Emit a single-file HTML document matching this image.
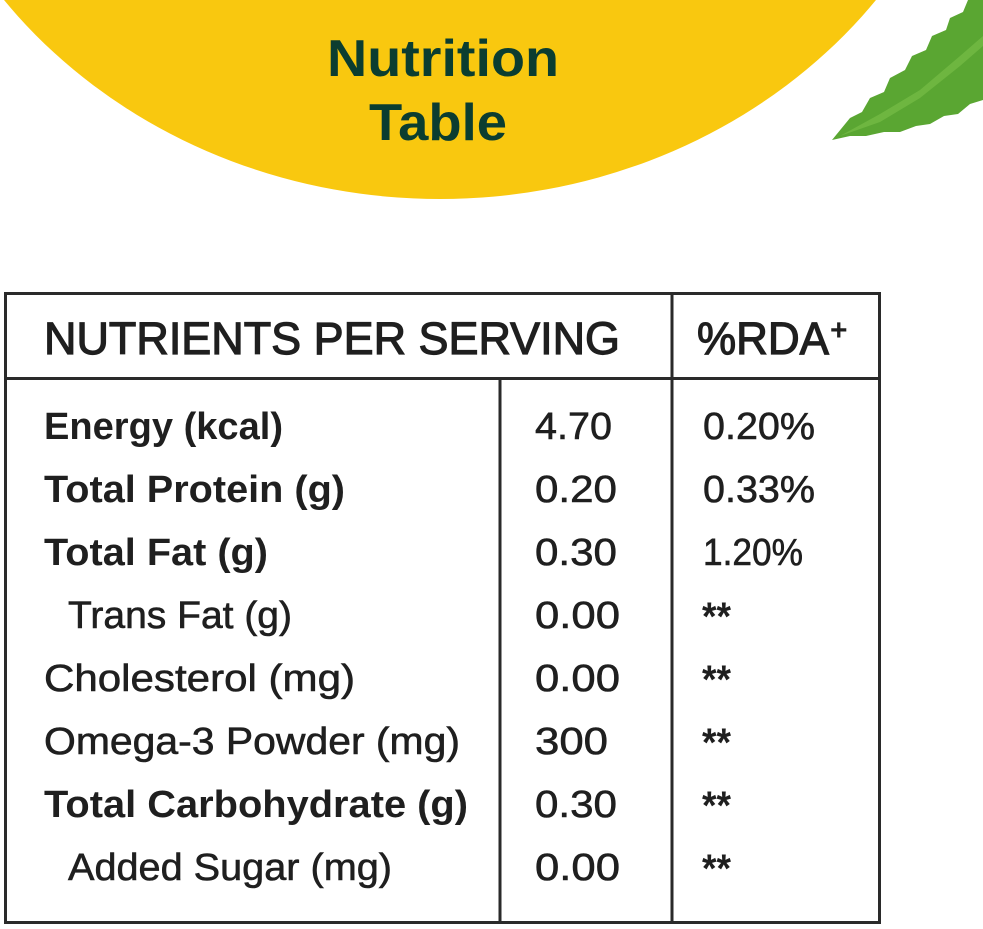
<!DOCTYPE html>
<html><head><meta charset="utf-8"><style>
html,body{margin:0;padding:0;background:#fff;}
svg{display:block;}
text{font-family:"Liberation Sans",sans-serif;fill:#1f1f1f;}
.m{stroke:#1f1f1f;stroke-width:0.6;}
</style></head><body>
<svg width="983" height="929" viewBox="0 0 983 929" xmlns="http://www.w3.org/2000/svg">
<ellipse cx="440" cy="-301" rx="546" ry="500" fill="#F9C80F"/>
<text x="443" y="76" text-anchor="middle" font-size="52" font-weight="bold" style="fill:#0b3d30" textLength="232" lengthAdjust="spacingAndGlyphs">Nutrition</text>
<text x="438" y="140" text-anchor="middle" font-size="52" font-weight="bold" style="fill:#0b3d30" textLength="138" lengthAdjust="spacingAndGlyphs">Table</text>
<!-- leaf -->
<polygon points="832,140 850,118 862,112 870,98 884,92 890,78 905,70 912,56 926,50 932,36 946,30 950,18 963,12 968,0 983,0 983,100 970,104 958,114 944,116 930,124 916,126 900,132 884,132 866,136 850,136" fill="#5aa632"/>
<polygon points="840,136 880,114 920,90 960,56 983,36 983,46 960,66 920,98 880,122" fill="#7cc24a" opacity="0.6"/>
<!-- table -->
<g stroke="#2a2a2a" stroke-width="3" fill="none">
<rect x="5.5" y="293.5" width="874" height="629"/>
<line x1="5" y1="378.5" x2="880" y2="378.5"/>
<line x1="672" y1="293" x2="672" y2="923"/>
<line x1="500" y1="378" x2="500" y2="923"/>
</g>
<text class="m" x="44" y="354" font-size="45" textLength="576" lengthAdjust="spacingAndGlyphs" style="stroke-width:1.2">NUTRIENTS PER SERVING</text>
<text class="m" x="697" y="354" font-size="45" textLength="132" lengthAdjust="spacingAndGlyphs" style="stroke-width:1.2">%RDA</text>
<text x="830" y="340" font-size="30" font-weight="bold">+</text>
<g font-size="38">
<text x="44" y="439" font-weight="bold" textLength="239" lengthAdjust="spacingAndGlyphs">Energy (kcal)</text>
<text x="44" y="502" font-weight="bold" textLength="301" lengthAdjust="spacingAndGlyphs">Total Protein (g)</text>
<text x="44" y="565" font-weight="bold" textLength="224" lengthAdjust="spacingAndGlyphs">Total Fat (g)</text>
<text class="m" x="68" y="628" textLength="224" lengthAdjust="spacingAndGlyphs">Trans Fat (g)</text>
<text class="m" x="44" y="691" textLength="311" lengthAdjust="spacingAndGlyphs">Cholesterol (mg)</text>
<text class="m" x="44" y="754" textLength="416" lengthAdjust="spacingAndGlyphs">Omega-3 Powder (mg)</text>
<text x="44" y="817" font-weight="bold" textLength="424" lengthAdjust="spacingAndGlyphs">Total Carbohydrate (g)</text>
<text class="m" x="68" y="880" textLength="324" lengthAdjust="spacingAndGlyphs">Added Sugar (mg)</text>

<text class="m" x="535" y="439" textLength="77" lengthAdjust="spacingAndGlyphs">4.70</text>
<text class="m" x="535" y="502" textLength="82" lengthAdjust="spacingAndGlyphs">0.20</text>
<text class="m" x="535" y="565" textLength="82" lengthAdjust="spacingAndGlyphs">0.30</text>
<text class="m" x="535" y="628" textLength="85" lengthAdjust="spacingAndGlyphs">0.00</text>
<text class="m" x="535" y="691" textLength="85" lengthAdjust="spacingAndGlyphs">0.00</text>
<text class="m" x="535" y="754" textLength="73" lengthAdjust="spacingAndGlyphs">300</text>
<text class="m" x="535" y="817" textLength="82" lengthAdjust="spacingAndGlyphs">0.30</text>
<text class="m" x="535" y="880" textLength="85" lengthAdjust="spacingAndGlyphs">0.00</text>

<text class="m" x="703" y="439" textLength="112" lengthAdjust="spacingAndGlyphs">0.20%</text>
<text class="m" x="703" y="502" textLength="112" lengthAdjust="spacingAndGlyphs">0.33%</text>
<text class="m" x="703" y="565" textLength="100" lengthAdjust="spacingAndGlyphs">1.20%</text>
</g>
<g font-size="40" font-weight="bold">
<text x="702" y="630" textLength="29" lengthAdjust="spacingAndGlyphs">**</text>
<text x="702" y="693" textLength="29" lengthAdjust="spacingAndGlyphs">**</text>
<text x="702" y="756" textLength="29" lengthAdjust="spacingAndGlyphs">**</text>
<text x="702" y="819" textLength="29" lengthAdjust="spacingAndGlyphs">**</text>
<text x="702" y="882" textLength="29" lengthAdjust="spacingAndGlyphs">**</text>
</g>
</svg>
</body></html>
